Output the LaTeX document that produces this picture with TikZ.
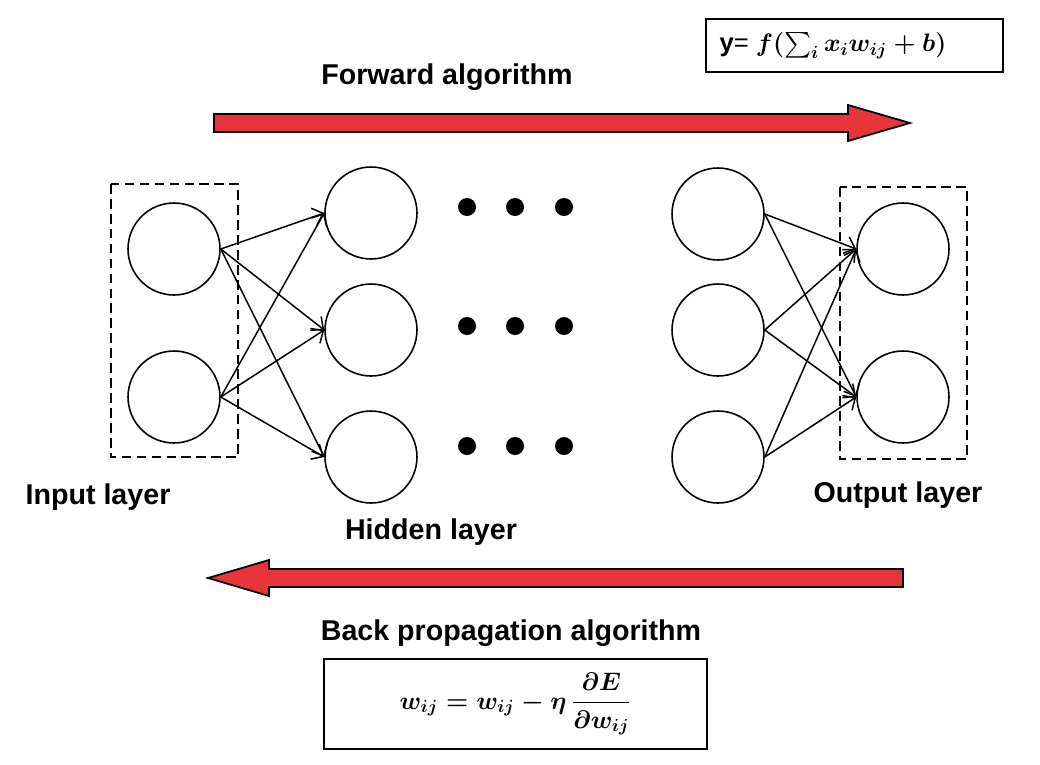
\documentclass[tikz,border=0pt]{standalone}
\usepackage{amsmath, amssymb}
\usepackage{fontspec}
\setmainfont{Liberation Sans}
\usetikzlibrary{arrows.meta, positioning}
\definecolor{arrowred}{HTML}{E8353A}

\begin{document}
\begin{tikzpicture}[x=0.02cm, y=-0.02cm,
  neuron/.style={draw, circle, minimum size=1.84cm, inner sep=0pt, line width=0.9pt},
  layerbox/.style={draw, dash pattern=on 5.5pt off 3pt, line width=0.9pt},
  conn/.style={-{Straight Barb[length=5.5pt, width=10pt]}, line width=0.85pt},
  layertext/.style={font=\fontsize{16.3}{19}\selectfont\bfseries},
  hdot/.style={fill, circle, minimum size=0.36cm, inner sep=0pt},
  bigarrow/.style={draw, fill=arrowred, line width=1pt},
  eqbox/.style={draw, line width=0.9pt, font=\fontsize{14.6}{18}\selectfont\boldmath}
]
  \useasboundingbox (0,0) rectangle (1040,764);

  % layer frames
  \draw[layerbox] (111,184) rectangle (238,457);
  \draw[layerbox] (840,187) rectangle (967,459);

  % neurons
  \node[neuron] (in1)  at (174, 249) {};
  \node[neuron] (in2)  at (174, 397) {};
  \node[neuron] (h1)   at (371, 213) {};
  \node[neuron] (h2)   at (371, 330) {};
  \node[neuron] (h3)   at (371, 457) {};
  \node[neuron] (r1)   at (718, 214) {};
  \node[neuron] (r2)   at (718, 330) {};
  \node[neuron] (r3)   at (718, 457) {};
  \node[neuron] (out1) at (903, 249) {};
  \node[neuron] (out2) at (903, 397) {};

  % dots between hidden layers
  \node[hdot] (d11) at (467, 207) {};
  \node[hdot] (d12) at (515, 207) {};
  \node[hdot] (d13) at (564, 207) {};
  \node[hdot] (d21) at (467, 326) {};
  \node[hdot] (d22) at (515, 326) {};
  \node[hdot] (d23) at (564, 326) {};
  \node[hdot] (d31) at (467, 446) {};
  \node[hdot] (d32) at (515, 446) {};
  \node[hdot] (d33) at (564, 446) {};

  % connections
  \draw[conn] (in1.east) -- (h1.west);
  \draw[conn] (in1.east) -- (h2.west);
  \draw[conn] (in1.east) -- (h3.west);
  \draw[conn] (in2.east) -- (h1.west);
  \draw[conn] (in2.east) -- (h2.west);
  \draw[conn] (in2.east) -- (h3.west);

  \draw[conn] (r1.east) -- (out1.west);
  \draw[conn] (r1.east) -- (out2.west);
  \draw[conn] (r2.east) -- (out1.west);
  \draw[conn] (r2.east) -- (out2.west);
  \draw[conn] (r3.east) -- (out1.west);
  \draw[conn] (r3.east) -- (out2.west);

  % big arrows
  \draw[bigarrow] (214,114) -- (848,114) -- (848,105) -- (910,123)
    -- (848,141) -- (848,132) -- (214,132) -- cycle;
  \draw[bigarrow] (903,569) -- (269,569) -- (269,560) -- (208,578)
    -- (269,596) -- (269,587) -- (903,587) -- cycle;

  % labels
  \node[layertext] (fwd)    at (447, 77)  {Forward algorithm};
  \node[layertext] (inlab)  at (98, 497)  {Input layer};
  \node[layertext] (hidlab) at (431, 532) {Hidden layer};
  \node[layertext] (outlab) at (898, 495) {Output layer};
  \node[layertext] (back)   at (511, 633) {Back propagation algorithm};

  % formulas
  \node[eqbox, minimum width=5.94cm, minimum height=1.06cm] (yeq) at (854.5, 45.5) {\makebox[5.4cm][l]{\textbf{y}= $f(\sum_i x_i w_{ij} + b)$}};
  \node[eqbox, minimum width=7.66cm, minimum height=1.8cm, font=\fontsize{14}{17}\selectfont\boldmath] (weq) at (515.5, 704) {$\displaystyle w_{ij} = w_{ij} - \eta\,\frac{\partial E}{\partial w_{ij}}$};
\end{tikzpicture}
\end{document}
